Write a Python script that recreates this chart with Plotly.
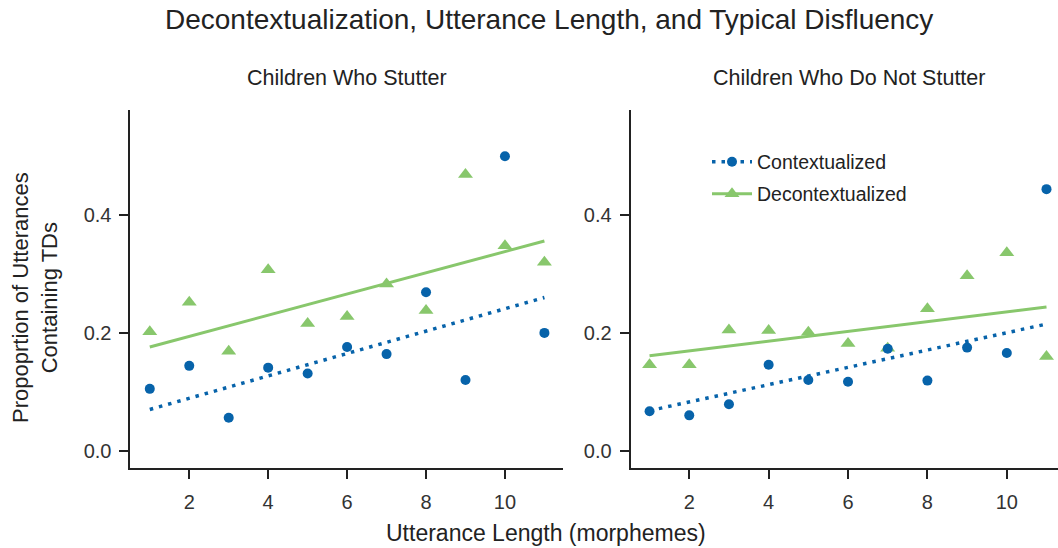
import plotly.graph_objects as go

# ---- data ----
lengths = [1, 2, 3, 4, 5, 6, 7, 8, 9, 10, 11]

cws_context = [0.105, 0.144, 0.056, 0.141, 0.131, 0.176, 0.164, 0.269, 0.120, 0.500, 0.200]
cws_decontext = [0.202, 0.252, 0.169, 0.307, 0.216, 0.228, 0.283, 0.238, 0.469, 0.348, 0.320]
cwns_context = [0.067, 0.060, 0.079, 0.146, 0.120, 0.117, 0.173, 0.119, 0.175, 0.166, 0.444]
cwns_decontext = [0.146, 0.146, 0.205, 0.204, 0.201, 0.182, 0.174, 0.241, 0.297, 0.336, 0.160]

fit_x = [1, 11]
cws_context_fit = [0.070, 0.260]
cws_decontext_fit = [0.176, 0.356]
cwns_context_fit = [0.068, 0.215]
cwns_decontext_fit = [0.161, 0.244]

panel_titles = ["Children Who Stutter", "Children Who Do Not Stutter"]
series_names = ["Contextualized", "Decontextualized"]
y_ticks = [0.0, 0.2, 0.4]
y_tick_labels = ["0.0", "0.2", "0.4"]
x_ticks = [2, 4, 6, 8, 10]

BLUE = "#0763AA"
GREEN = "#88C76C"
FONT = "Liberation Sans"
DOT = "3.5px,6px"

fig = go.Figure()

panels = [
    ("x", "y", cws_context, cws_decontext, cws_context_fit, cws_decontext_fit),
    ("x2", "y2", cwns_context, cwns_decontext, cwns_context_fit, cwns_decontext_fit),
]
for xa, ya, ctx, dec, ctx_fit, dec_fit in panels:
    fig.add_trace(go.Scatter(x=fit_x, y=dec_fit, mode="lines", xaxis=xa, yaxis=ya,
                             line=dict(color=GREEN, width=3), showlegend=False,
                             hoverinfo="skip"))
    fig.add_trace(go.Scatter(x=fit_x, y=ctx_fit, mode="lines", xaxis=xa, yaxis=ya,
                             line=dict(color=BLUE, width=3.5, dash=DOT), showlegend=False,
                             hoverinfo="skip"))
    fig.add_trace(go.Scatter(x=lengths, y=dec, mode="markers", xaxis=xa, yaxis=ya,
                             marker=dict(symbol="triangle-up", size=13, color=GREEN),
                             showlegend=False))
    fig.add_trace(go.Scatter(x=lengths, y=ctx, mode="markers", xaxis=xa, yaxis=ya,
                             marker=dict(symbol="circle", size=10, color=BLUE),
                             showlegend=False))

# legend-only entries (one legend each for exact row spacing)
fig.add_trace(go.Scatter(x=[None], y=[None], mode="lines+markers", name=series_names[0],
                         xaxis="x2", yaxis="y2", legend="legend",
                         line=dict(color=BLUE, width=3.5, dash=DOT),
                         marker=dict(symbol="circle", size=10, color=BLUE)))
fig.add_trace(go.Scatter(x=[None], y=[None], mode="lines+markers", name=series_names[1],
                         xaxis="x2", yaxis="y2", legend="legend2",
                         line=dict(color=GREEN, width=3),
                         marker=dict(symbol="triangle-up", size=13, color=GREEN)))

axis_common = dict(showgrid=False, zeroline=False, showline=True, linecolor="#222222",
                   linewidth=2, ticks="outside", ticklen=9, tickwidth=1.5,
                   tickcolor="#222222", tickfont=dict(family=FONT, size=20, color="#333333"))

legend_common = dict(xanchor="left", yanchor="middle",
                     font=dict(family=FONT, size=19.5, color="#222222"),
                     bgcolor="rgba(0,0,0,0)", itemwidth=40)

fig.update_layout(
    width=1058, height=548,
    margin=dict(l=0, r=0, t=0, b=0),
    plot_bgcolor="white", paper_bgcolor="white",
    font=dict(family=FONT, color="#222222"),
    xaxis=dict(domain=[0.1233, 0.5321], range=[0.51, 11.47], tickvals=x_ticks,
               anchor="y", ticklabelstandoff=6, **axis_common),
    yaxis=dict(domain=[0.1465, 0.7993], range=[-0.0289, 0.5784], tickvals=y_ticks,
               ticktext=y_tick_labels, anchor="x", ticklabelstandoff=4, **axis_common),
    xaxis2=dict(domain=[0.5961, 1.0], range=[0.524, 11.29], tickvals=x_ticks,
                anchor="y2", ticklabelstandoff=6, **axis_common),
    yaxis2=dict(domain=[0.1465, 0.7993], range=[-0.0289, 0.5784], tickvals=y_ticks,
                ticktext=y_tick_labels, anchor="x2", ticklabelstandoff=4, **axis_common),
    legend=dict(x=707 / 1058, y=1 - 162 / 548, **legend_common),
    legend2=dict(x=707 / 1058, y=1 - 194 / 548, **legend_common),
    showlegend=True,
)

annotations = [
    dict(text="Decontextualization, Utterance Length, and Typical Disfluency",
         x=549 / 1058, y=1 - 20 / 548, font=dict(size=28)),
    dict(text=panel_titles[0], x=347 / 1058, y=1 - 78 / 548, font=dict(size=21.5)),
    dict(text=panel_titles[1], x=849 / 1058, y=1 - 78 / 548, font=dict(size=21.5)),
    dict(text="Utterance Length (morphemes)", x=546 / 1058, y=1 - 533 / 548, font=dict(size=23)),
    dict(text="Propoprtion of Utterances<br>Containing TDs", x=35 / 1058, y=1 - 298 / 548,
         textangle=-90, font=dict(size=22)),
]
for a in annotations:
    a.update(xref="paper", yref="paper", showarrow=False, xanchor="center", yanchor="middle")
    a["font"].update(family=FONT, color="#222222")
fig.update_layout(annotations=annotations)

fig.write_html("out.html", config={"displayModeBar": False},
               post_script="document.body.style.margin='0px';")
